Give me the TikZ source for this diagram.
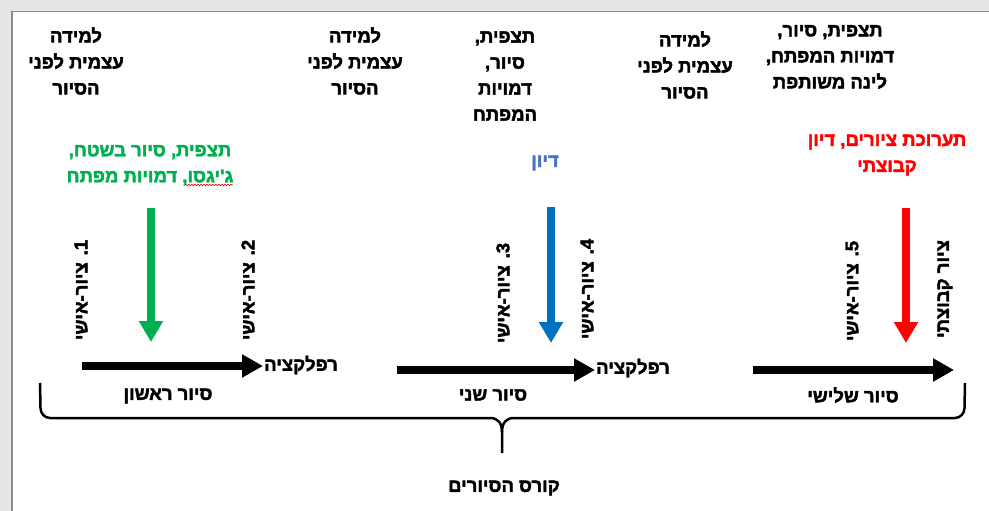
\documentclass[tikz,border=0pt]{standalone}
\usepackage{fontspec}
\usetikzlibrary{arrows.meta,decorations.pathmorphing}
\TeXXeTstate=1
\newfontfamily\hebfont[Script=Hebrew, FakeBold=2.2]{Liberation Sans Bold}
\newcommand\rl[1]{\beginR #1\endR}
\definecolor{mygreen}{HTML}{00B050}
\definecolor{myblue}{HTML}{0070C0}
\definecolor{mybluetext}{HTML}{4472C4}
\definecolor{myred}{HTML}{FF0000}
\definecolor{framegray}{HTML}{E6E6E6}
\definecolor{frameline}{HTML}{8C8C8C}
\tikzset{
  txt/.style={font=\hebfont\fontsize{18.5}{26}\selectfont, align=center, inner sep=0pt},
  vtxt/.style={txt, rotate=90},
  varrow/.style={line width=8pt, -{Triangle[length=21pt,width=23pt]}},
  harrow/.style={line width=8pt, black, -{Triangle[length=21pt,width=22pt]}},
  bracepath/.style={line width=2.5pt, black, line join=round},
  squiggle/.style={myred, line width=0.6pt, decorate, decoration={snake, amplitude=0.8pt, segment length=3pt}}
}
\begin{document}
\begin{tikzpicture}[x=1pt,y=-1pt]
\useasboundingbox (0,0) rectangle (989,511);
\fill[white] (0,0) rectangle (989,511);
\fill[framegray] (0,0) rectangle (989,11);
\fill[framegray] (0,0) rectangle (11,511);
\draw[frameline, line width=1.5pt] (12,511) -- (12,11.5) -- (989,11.5);

% top black texts
\node[txt] (t1) at (76,61) {\rl{למידה}\\\rl{עצמית לפני}\\\rl{הסיור}};
\node[txt] (t2) at (355,61) {\rl{למידה}\\\rl{עצמית לפני}\\\rl{הסיור}};
\node[txt] (t3) at (505,76) {\rl{תצפית,}\\\rl{סיור,}\\\rl{דמויות}\\\rl{המפתח}};
\node[txt] (t4) at (685,65) {\rl{למידה}\\\rl{עצמית לפני}\\\rl{הסיור}};
\node[txt] (t5) at (830,57) {\rl{תצפית, סיור,}\\\rl{דמויות המפתח,}\\\rl{לינה משותפת}};

% coloured texts
\node[txt, text=mygreen] (g) at (150,165) {\rl{תצפית, סיור בשטח,}\\\rl{ג'יגסו, דמויות מפתח}};
\node[txt, text=mybluetext] (b) at (545,163) {\rl{דיון}};
\node[txt, text=myred] (r) at (887,155) {\rl{תערוכת ציורים, דיון}\\\rl{קבוצתי}};

\coordinate (sq1) at (185,185);
\coordinate (sq2) at (233,185);
\draw[squiggle] (sq1) -- (sq2);

% vertical arrows
\coordinate (ga) at (151,208); \coordinate (gb) at (151,342);
\coordinate (ba) at (551,207); \coordinate (bb) at (551,343);
\coordinate (ra) at (906,208); \coordinate (rb) at (906,343);
\draw[varrow, mygreen] (ga) -- (gb);
\draw[varrow, myblue] (ba) -- (bb);
\draw[varrow, myred] (ra) -- (rb);

% horizontal arrows
\coordinate (h1a) at (82,366); \coordinate (h1b) at (263,366);
\coordinate (h2a) at (397,370); \coordinate (h2b) at (595,370);
\coordinate (h3a) at (753,370); \coordinate (h3b) at (954,370);
\draw[harrow] (h1a) -- (h1b);
\draw[harrow] (h2a) -- (h2b);
\draw[harrow] (h3a) -- (h3b);

% vertical labels
\node[vtxt] (p1) at (81,290) {\rl{1. ציור-אישי}};
\node[vtxt] (p2) at (248,290) {\rl{2. ציור-אישי}};
\node[vtxt] (p3) at (503,293) {\rl{3. ציור-אישי}};
\node[vtxt] (p4) at (587,289) {\rl{4. ציור-אישי}};
\node[vtxt] (p5) at (852,291) {\rl{5. ציור-אישי}};
\node[vtxt] (p6) at (945,289) {\rl{ציור קבוצתי}};

% reflection and tour labels
\node[txt] (ref1) at (301,365) {\rl{רפלקציה}};
\node[txt] (ref2) at (633,368) {\rl{רפלקציה}};
\node[txt] (s1) at (168,396) {\rl{סיור ראשון}};
\node[txt] (s2) at (493,395) {\rl{סיור שני}};
\node[txt] (s3) at (853,395) {\rl{סיור שלישי}};

% brace
\coordinate (bl) at (40,383);
\coordinate (br) at (965,383);
\coordinate (bm) at (502,432);
\coordinate (btip) at (502,453);
\draw[bracepath] (bl) -- (40.5,408) to[out=-90,in=180] (50,418) -- (490,418) .. controls (498,418) and (502,423) .. (bm) -- (btip);
\draw[bracepath] (br) -- (964.5,408) to[out=-90,in=0] (955,418) -- (514,418) .. controls (506,418) and (502,423) .. (bm);

\node[txt] (course) at (504,488) {\rl{קורס הסיורים}};
\end{tikzpicture}
\end{document}
